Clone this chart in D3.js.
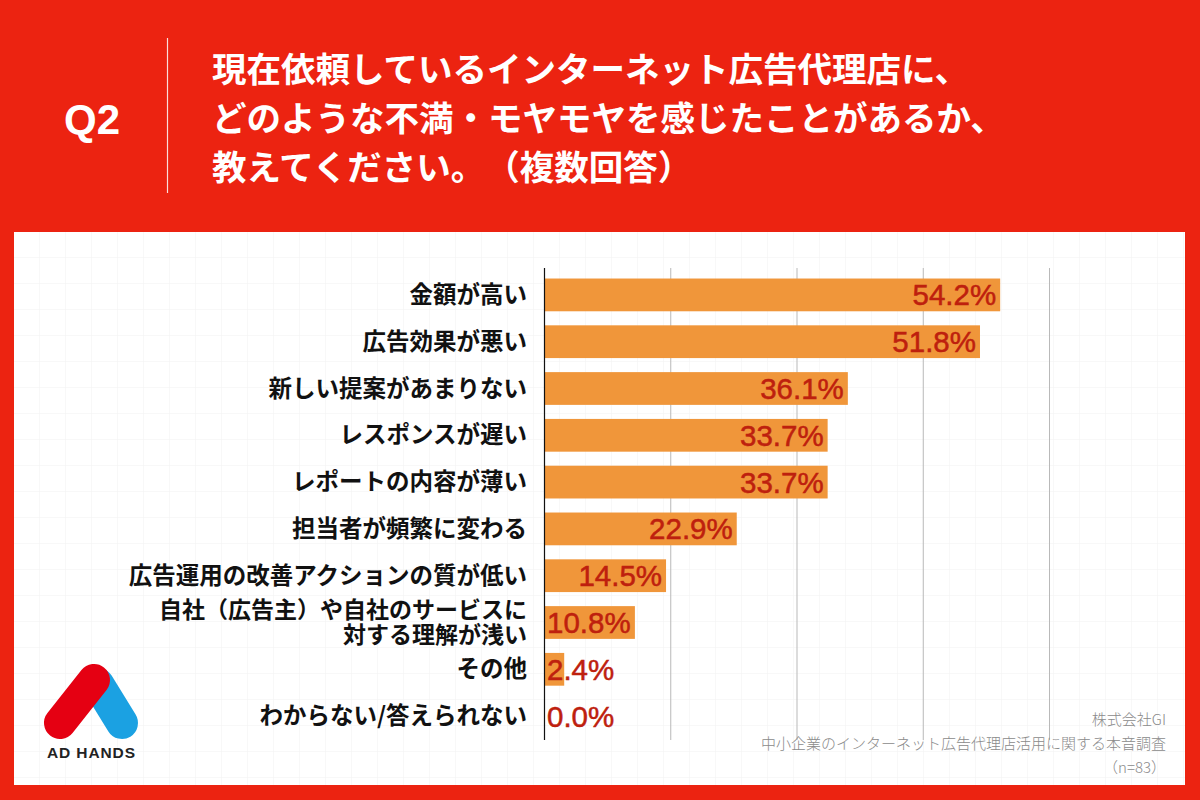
<!DOCTYPE html>
<html><head><meta charset="utf-8">
<script src="https://cdn.jsdelivr.net/npm/d3@7"></script>
<style>
html,body{margin:0;padding:0;background:#EC2311;}
svg{display:block;}
text{text-spacing-trim:space-all;}
</style></head>
<body>
<script>
const categories = [
  "金額が高い",
  "広告効果が悪い",
  "新しい提案があまりない",
  "レスポンスが遅い",
  "レポートの内容が薄い",
  "担当者が頻繁に変わる",
  "広告運用の改善アクションの質が低い",
  "自社（広告主）や自社のサービスに|対する理解が浅い",
  "その他",
  "わからない/答えられない"
];
const values = [54.2, 51.8, 36.1, 33.7, 33.7, 22.9, 14.5, 10.8, 2.4, 0.0];
const xTicks = [15, 30, 45, 60];
const titleLines = [
  "現在依頼しているインターネット広告代理店に、",
  "どのような不満・モヤモヤを感じたことがあるか、",
  "教えてください。（複数回答）"
];
const footLines = ["株式会社GI", "中小企業のインターネット広告代理店活用に関する本音調査", "（n=83）"];

const W = 1200, H = 800;
const RED = "#EC2311";
const JP = "'Noto Sans CJK JP','Noto Sans',sans-serif";
const LAT = "'Liberation Sans',Arial,Helvetica,sans-serif";

const svg = d3.select("body").append("svg").attr("width", W).attr("height", H);

svg.append("rect").attr("width", W).attr("height", H).attr("fill", RED);

const defs = svg.append("defs");
const pat = defs.append("pattern").attr("id", "grid").attr("width", 26).attr("height", 26)
  .attr("patternUnits", "userSpaceOnUse").attr("x", 14).attr("y", 232);
pat.append("rect").attr("width", 26).attr("height", 26).attr("fill", "#fff");
pat.append("path").attr("d", "M26 0 V26 M0 26 H26").attr("stroke", "#f2f2f2").attr("stroke-width", 1).attr("fill", "none");

svg.append("rect").attr("x", 14).attr("y", 232).attr("width", 1171).attr("height", 553).attr("fill", "url(#grid)");

// header
svg.append("text").attr("x", 92).attr("y", 134).attr("text-anchor", "middle")
  .attr("font-family", LAT).attr("font-weight", "bold").attr("font-size", 42).attr("fill", "#fff").text("Q2");
svg.append("line").attr("x1", 167.5).attr("x2", 167.5).attr("y1", 38).attr("y2", 193)
  .attr("stroke", "#fff").attr("stroke-width", 1.2).attr("opacity", 0.85);
svg.append("g").selectAll("text").data(titleLines).join("text")
  .attr("x", 212).attr("y", (d, i) => 82 + i * 49)
  .attr("font-family", JP).attr("font-weight", "bold").attr("font-size", 34.5).attr("fill", "#fff")
  .text(d => d);

// scales
const x = d3.scaleLinear().domain([0, 60]).range([544, 1049]);
const y = d3.scaleBand().domain(categories).range([271.5, 739.5]).paddingInner(0.3).paddingOuter(0.15);

svg.append("g").selectAll("line").data(xTicks).join("line")
  .attr("x1", d => x(d) + 0.5).attr("x2", d => x(d) + 0.5).attr("y1", 268).attr("y2", 740)
  .attr("stroke", "#b9b9b9").attr("stroke-width", 1);

svg.append("g").selectAll("rect").data(values).join("rect")
  .attr("x", x(0)).attr("y", (d, i) => y(categories[i]))
  .attr("width", d => x(d) - x(0)).attr("height", y.bandwidth())
  .attr("fill", "#F0963A");

svg.append("line").attr("x1", 544.5).attr("x2", 544.5).attr("y1", 268).attr("y2", 740)
  .attr("stroke", "#111").attr("stroke-width", 1.2);

const lab = svg.append("g").selectAll("text").data(categories).join("text")
  .attr("text-anchor", "end").attr("font-family", JP).attr("font-weight", "bold")
  .attr("font-size", d => d.includes("|") ? 23 : 23.5).attr("fill", "#111")
  .attr("transform", d => `translate(527,${y(d) + y.bandwidth() / 2})`);
lab.each(function (d) {
  const parts = d.split("|");
  const t = d3.select(this);
  parts.forEach((p, k) => {
    t.append("tspan").attr("x", 0)
      .attr("y", (k - (parts.length - 1) / 2) * 25 + 8)
      .text(p);
  });
});

const vl = svg.append("g").selectAll("text").data(values).join("text")
  .attr("font-family", LAT).attr("font-size", 29.5).attr("fill", "#BE200E")
  .attr("stroke", "#BE200E").attr("stroke-width", 0.5)
  .attr("y", (d, i) => y(categories[i]) + y.bandwidth() / 2 + 10.5)
  .text(d => d.toFixed(1) + "%");
vl.each(function (d) {
  const t = d3.select(this);
  const w = this.getComputedTextLength();
  const bw = x(d) - x(0);
  if (bw > w + 10) t.attr("x", x(d) - 4).attr("text-anchor", "end");
  else t.attr("x", x(0) + 3).attr("text-anchor", "start");
});

svg.append("g").selectAll("text").data(footLines).join("text")
  .attr("x", 1166).attr("y", (d, i) => 725 + i * 24).attr("text-anchor", "end")
  .attr("font-family", JP).attr("font-size", 15).attr("fill", "#8a8a8a").attr("font-weight", 300)
  .text(d => d);

const logo = svg.append("g");
logo.append("line").attr("x1", 98).attr("y1", 684).attr("x2", 122).attr("y2", 723)
  .attr("stroke", "#1BA1E2").attr("stroke-width", 32).attr("stroke-linecap", "round");
logo.append("line").attr("x1", 60).attr("y1", 723).attr("x2", 94).attr("y2", 680)
  .attr("stroke", "#E50012").attr("stroke-width", 32).attr("stroke-linecap", "round");
logo.append("text").attr("x", 91).attr("y", 758).attr("text-anchor", "middle")
  .attr("font-family", LAT).attr("font-weight", "bold").attr("font-size", 15.5).attr("fill", "#222")
  .attr("textLength", 88).text("AD HANDS");
</script>
</body></html>
